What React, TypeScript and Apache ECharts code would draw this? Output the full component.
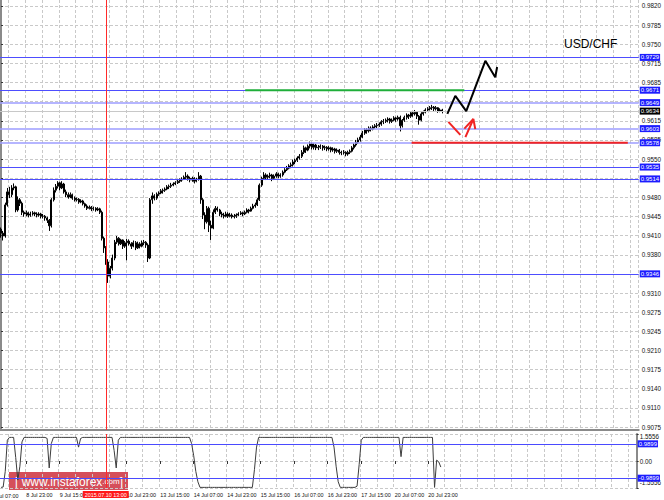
import React, { useEffect, useRef } from 'react';
import * as echarts from 'echarts';

// ---------- DATA ----------
const N_BARS = 304; // hourly slots across the whole chart width (incl. empty shift area)
const FIRST_OPEN = 0.9425;
const CLOSE = [
  0.9418, 0.9413, 0.9468, 0.9491, 0.9486, 0.9498, 0.9500, 0.9459, 0.9477, 0.9471,
  0.9455, 0.9452, 0.9454, 0.9450, 0.9452, 0.9454, 0.9452, 0.9450, 0.9452, 0.9448,
  0.9448, 0.9445, 0.9441, 0.9431, 0.9477, 0.9494, 0.9501, 0.9507, 0.9498, 0.9505,
  0.9491, 0.9486, 0.9482, 0.9486, 0.9480, 0.9477, 0.9478, 0.9473, 0.9475, 0.9470,
  0.9466, 0.9462, 0.9464, 0.9461, 0.9462, 0.9459, 0.9461, 0.9455, 0.9409, 0.9392,
  0.9367, 0.9342, 0.9356, 0.9374, 0.9402, 0.9409, 0.9399, 0.9406, 0.9395, 0.9401,
  0.9404, 0.9399, 0.9395, 0.9401, 0.9392, 0.9399, 0.9395, 0.9401, 0.9402, 0.9397,
  0.9374, 0.9477, 0.9484, 0.9480, 0.9487, 0.9489, 0.9493, 0.9494, 0.9496, 0.9500,
  0.9501, 0.9503, 0.9505, 0.9507, 0.9510, 0.9512, 0.9513, 0.9517, 0.9519, 0.9515,
  0.9512, 0.9515, 0.9510, 0.9513, 0.9519, 0.9477, 0.9450, 0.9438, 0.9462, 0.9432,
  0.9427, 0.9455, 0.9462, 0.9459, 0.9452, 0.9450, 0.9448, 0.9452, 0.9448, 0.9450,
  0.9447, 0.9448, 0.9450, 0.9452, 0.9454, 0.9452, 0.9455, 0.9459, 0.9457, 0.9462,
  0.9466, 0.9468, 0.9477, 0.9503, 0.9515, 0.9521, 0.9517, 0.9519, 0.9521, 0.9515,
  0.9519, 0.9523, 0.9519, 0.9521, 0.9526, 0.9530, 0.9533, 0.9537, 0.9539, 0.9544,
  0.9547, 0.9551, 0.9554, 0.9561, 0.9569, 0.9565, 0.9572, 0.9576, 0.9570, 0.9574,
  0.9569, 0.9570, 0.9572, 0.9569, 0.9570, 0.9567, 0.9569, 0.9565, 0.9567, 0.9563,
  0.9565, 0.9561, 0.9560, 0.9561, 0.9558, 0.9561, 0.9563, 0.9569, 0.9574, 0.9579,
  0.9583, 0.9588, 0.9595, 0.9601, 0.9599, 0.9604, 0.9602, 0.9606, 0.9608, 0.9609,
  0.9611, 0.9615, 0.9616, 0.9618, 0.9620, 0.9616, 0.9618, 0.9622, 0.9620, 0.9623,
  0.9608, 0.9618, 0.9623, 0.9627, 0.9625, 0.9631, 0.9629, 0.9632, 0.9625, 0.9618,
  0.9629, 0.9632, 0.9636, 0.9638, 0.9640, 0.9641, 0.9638, 0.9640, 0.9634, 0.9636, 0.9634,
];
const HIGH = [
  0.9428, 0.9422, 0.9472, 0.9498, 0.9500, 0.9503, 0.9506, 0.9502, 0.9483, 0.9480,
  0.9474, 0.9458, 0.9458, 0.9456, 0.9456, 0.9457, 0.9456, 0.9455, 0.9455, 0.9454,
  0.9452, 0.9450, 0.9447, 0.9443, 0.9480, 0.9499, 0.9505, 0.9510, 0.9509, 0.9510,
  0.9507, 0.9495, 0.9490, 0.9490, 0.9488, 0.9483, 0.9481, 0.9480, 0.9478, 0.9477,
  0.9472, 0.9469, 0.9467, 0.9466, 0.9465, 0.9464, 0.9464, 0.9463, 0.9458, 0.9412,
  0.9395, 0.9372, 0.9360, 0.9380, 0.9406, 0.9413, 0.9411, 0.9408, 0.9407, 0.9404,
  0.9408, 0.9407, 0.9402, 0.9405, 0.9404, 0.9403, 0.9402, 0.9405, 0.9406, 0.9404,
  0.9400, 0.9480, 0.9490, 0.9487, 0.9490, 0.9492, 0.9496, 0.9497, 0.9499, 0.9503,
  0.9504, 0.9507, 0.9508, 0.9510, 0.9513, 0.9515, 0.9517, 0.9520, 0.9526, 0.9522,
  0.9518, 0.9518, 0.9517, 0.9516, 0.9526, 0.9521, 0.9480, 0.9455, 0.9466, 0.9465,
  0.9440, 0.9460, 0.9466, 0.9465, 0.9461, 0.9456, 0.9454, 0.9456, 0.9455, 0.9454,
  0.9453, 0.9452, 0.9453, 0.9455, 0.9457, 0.9456, 0.9458, 0.9462, 0.9461, 0.9465,
  0.9470, 0.9472, 0.9480, 0.9506, 0.9518, 0.9526, 0.9524, 0.9522, 0.9525, 0.9523,
  0.9522, 0.9526, 0.9525, 0.9524, 0.9529, 0.9533, 0.9537, 0.9540, 0.9543, 0.9548,
  0.9550, 0.9554, 0.9558, 0.9565, 0.9573, 0.9571, 0.9575, 0.9580, 0.9578, 0.9577,
  0.9576, 0.9574, 0.9575, 0.9574, 0.9573, 0.9572, 0.9572, 0.9571, 0.9570, 0.9569,
  0.9568, 0.9567, 0.9564, 0.9565, 0.9563, 0.9564, 0.9566, 0.9572, 0.9577, 0.9583,
  0.9587, 0.9592, 0.9599, 0.9604, 0.9604, 0.9607, 0.9607, 0.9609, 0.9611, 0.9613,
  0.9614, 0.9618, 0.9620, 0.9621, 0.9623, 0.9622, 0.9621, 0.9625, 0.9624, 0.9626,
  0.9626, 0.9620, 0.9626, 0.9630, 0.9629, 0.9634, 0.9633, 0.9636, 0.9633, 0.9627,
  0.9632, 0.9635, 0.9639, 0.9641, 0.9643, 0.9645, 0.9643, 0.9643, 0.9641, 0.9639, 0.9638,
];
const LOW = [
  0.9410, 0.9405, 0.9410, 0.9465, 0.9480, 0.9482, 0.9494, 0.9455, 0.9456, 0.9466,
  0.9450, 0.9447, 0.9448, 0.9446, 0.9447, 0.9449, 0.9448, 0.9446, 0.9447, 0.9444,
  0.9444, 0.9440, 0.9436, 0.9422, 0.9428, 0.9474, 0.9490, 0.9497, 0.9494, 0.9496,
  0.9488, 0.9482, 0.9479, 0.9480, 0.9477, 0.9474, 0.9474, 0.9470, 0.9471, 0.9467,
  0.9463, 0.9459, 0.9460, 0.9457, 0.9458, 0.9456, 0.9457, 0.9452, 0.9405, 0.9383,
  0.9362, 0.9330, 0.9338, 0.9352, 0.9370, 0.9399, 0.9396, 0.9397, 0.9390, 0.9392,
  0.9370, 0.9396, 0.9390, 0.9393, 0.9388, 0.9390, 0.9391, 0.9393, 0.9397, 0.9392,
  0.9367, 0.9372, 0.9470, 0.9476, 0.9477, 0.9484, 0.9487, 0.9488, 0.9491, 0.9494,
  0.9496, 0.9498, 0.9501, 0.9503, 0.9505, 0.9507, 0.9509, 0.9512, 0.9514, 0.9511,
  0.9508, 0.9509, 0.9506, 0.9508, 0.9511, 0.9470, 0.9443, 0.9425, 0.9435, 0.9420,
  0.9406, 0.9425, 0.9452, 0.9456, 0.9448, 0.9446, 0.9444, 0.9446, 0.9445, 0.9446,
  0.9444, 0.9444, 0.9445, 0.9448, 0.9450, 0.9448, 0.9450, 0.9453, 0.9453, 0.9456,
  0.9460, 0.9463, 0.9466, 0.9475, 0.9500, 0.9512, 0.9512, 0.9514, 0.9515, 0.9510,
  0.9512, 0.9516, 0.9515, 0.9516, 0.9518, 0.9524, 0.9528, 0.9531, 0.9533, 0.9536,
  0.9540, 0.9544, 0.9548, 0.9551, 0.9558, 0.9560, 0.9563, 0.9568, 0.9566, 0.9566,
  0.9565, 0.9565, 0.9567, 0.9564, 0.9565, 0.9563, 0.9564, 0.9561, 0.9562, 0.9559,
  0.9560, 0.9557, 0.9556, 0.9557, 0.9554, 0.9555, 0.9558, 0.9561, 0.9566, 0.9571,
  0.9576, 0.9580, 0.9586, 0.9592, 0.9594, 0.9596, 0.9598, 0.9600, 0.9603, 0.9604,
  0.9606, 0.9608, 0.9611, 0.9613, 0.9614, 0.9612, 0.9613, 0.9616, 0.9615, 0.9617,
  0.9598, 0.9605, 0.9615, 0.9619, 0.9620, 0.9622, 0.9624, 0.9626, 0.9620, 0.9610,
  0.9616, 0.9626, 0.9630, 0.9633, 0.9635, 0.9636, 0.9634, 0.9635, 0.9631, 0.9632, 0.9630,
];
const INDICATOR = [
  -1.52, -1.50, -0.60, 1.20, 1.36, 1.36, 1.36, 0.20, -1.10, -0.30,
  1.10, 1.36, 1.36, 1.36, 1.36, 1.36, 1.36, 1.36, 1.36, 1.36,
  1.36, 1.36, 1.30, -0.40, 1.00, 1.36, 1.36, 1.36, 1.36, 1.36,
  1.36, 1.36, 1.36, 1.36, 1.36, 1.36, 1.36, 0.80, 1.30, 1.36,
  1.36, 1.36, 1.36, 1.36, 1.36, 1.36, 1.36, 1.36, 1.36, 1.36,
  1.36, 1.36, 1.36, 1.36, 0.60, -0.40, 1.20, 1.36, 1.36, 1.36,
  1.36, 1.36, 1.36, 1.36, 1.36, 1.36, 1.36, 1.36, 1.36, 1.36,
  1.36, 1.36, 1.36, 1.36, 1.36, 1.36, 1.36, 1.36, 1.36, 1.36,
  1.36, 1.36, 1.36, 1.36, 1.36, 1.36, 1.36, 1.36, 1.36, 1.36,
  1.36, 1.00, 0.30, -0.60, -1.20, -1.52, -1.52, -1.52, -1.52, -1.52,
  -1.52, -1.52, -1.52, -1.52, -1.52, -1.52, -1.52, -1.52, -1.52, -1.52,
  -1.52, -1.52, -1.52, -1.52, -1.52, -1.52, -1.52, -1.52, -1.52, -1.52,
  -1.52, -0.50, 0.80, 1.36, 1.36, 1.36, 1.36, 1.36, 1.36, 1.36,
  1.36, 1.36, 1.36, 1.36, 1.36, 1.36, 1.36, 1.36, 1.36, 1.36,
  1.36, 1.36, 1.36, 1.36, 1.36, 1.36, 1.36, 1.36, 1.36, 1.36,
  1.36, 1.36, 1.36, 1.36, 1.36, 1.36, 1.36, 1.36, 1.36, 0.80,
  -0.30, -1.20, -1.52, -1.52, -1.52, -1.52, -1.52, -1.52, -1.52, -1.52,
  -1.45, -0.20, 1.20, 1.36, 1.36, 1.36, 1.36, 1.36, 1.36, 1.36,
  1.36, 1.36, 1.36, 1.36, 1.36, 1.36, 1.36, 1.36, 1.36, 1.36,
  1.36, 0.25, 1.36, 1.36, 1.36, 1.36, 1.36, 1.36, 1.36, 1.36,
  1.36, 1.36, 1.36, 1.36, 1.36, 1.36, 1.36, -1.52, 0.05, -0.05, -0.35,
];

// price scale tick labels (bottom to top), evenly spaced in the pane
const PRICE_TICK_LABELS = [
  '0.9075', '0.9110', '0.9140', '0.9175', '0.9210', '0.9245', '0.9275', '0.9310',
  '0.9345', '0.9380', '0.9410', '0.9445', '0.9480', '0.9515', '0.9550', '0.9585',
  '0.9615', '0.9650', '0.9685', '0.9715', '0.9750', '0.9785', '0.9820',
];
// tick labels that sit under a highlighted level box in the reference
const COVERED_TICK_LABELS = ['0.9345', '0.9515', '0.9650'];
const PRICE_TICK_FIRST = 0.9075;
const PRICE_TICK_LAST = 0.982;
const PRICE_MIN = 0.90697;
const PRICE_MAX = 0.98306;

const LEVEL_VALUES = [0.9729, 0.9671, 0.9649, 0.9603, 0.9578, 0.9535, 0.9514, 0.9346];
const LEVEL_LABELS = ['0.9729', '0.9671', '0.9649', '0.9603', '0.9578', '0.9535', '0.9514', '0.9346'];
const CURRENT_PRICE = 0.9634;
const CURRENT_LABEL = '0.9634';

const IND_MIN = -1.5556;
const IND_MAX = 1.5556;
const IND_TICKS = [-1.5556, 0, 1.5556];
const IND_TICK_LABELS = ['-1.5556', '0.00', '1.5556'];
const IND_LEVELS = [0.9899, -0.9899];
const IND_LEVEL_LABELS = ['0.9899', '-0.9899'];

const X_LABEL_BARS = [12, 28, 60, 76, 92, 108, 124, 140, 156, 172, 188, 204];
const X_LABELS = [
  '8 Jul 23:00', '9 Jul 15:00', '10 Jul 23:00', '13 Jul 15:00', '14 Jul 07:00', '14 Jul 23:00',
  '15 Jul 15:00', '16 Jul 07:00', '16 Jul 23:00', '17 Jul 15:00', '20 Jul 07:00', '20 Jul 23:00',
];
const EVENT_BAR = 50;
const EVENT_LABEL = '2015.07.10 13:00';

// drawn objects, in [bar position, price]
const GREEN_SEG = [[116.2, 0.9671], [220.5, 0.9671]];
const RED_SEG = [[195.4, 0.9578], [298.3, 0.9578]];
const BLACK_PATH = [[212.4, 0.9629], [216.2, 0.9661], [221.4, 0.9634], [230.5, 0.9723], [235.2, 0.9694], [236.1, 0.9712]];
const RED_PATH_1 = [[212.9, 0.9615], [218.6, 0.9592]];
const RED_PATH_2 = [[221.0, 0.9588], [224.8, 0.9620], [225.7, 0.9602]];
const RED_PATH_3 = [[220.5, 0.9603], [224.8, 0.9620]];

// ---------- styling ----------
const FONT = 'Liberation Sans';
const LIGHT_LEVELS = [2, 3, 4];
const GRID_LINE = { color: '#c9c9c9', type: [3, 2] as any, width: 1 };
const AXIS_GRAY = { color: '#8a8a8a', width: 2 };

export default function App() {
  const ref = useRef<HTMLDivElement>(null);

  useEffect(() => {
    document.body.style.margin = '0';
    if (!ref.current) return;
    const chart = echarts.init(ref.current, undefined, { renderer: 'svg' });

    const cats = Array.from({ length: N_BARS }, (_, i) => String(i));
    const candles = CLOSE.map((c, i) => [i === 0 ? FIRST_OPEN : CLOSE[i - 1], c, LOW[i], HIGH[i]]);
    const tickStep = (PRICE_TICK_LAST - PRICE_TICK_FIRST) / (PRICE_TICK_LABELS.length - 1);
    const tickValues = PRICE_TICK_LABELS.map((_, k) => PRICE_TICK_FIRST + k * tickStep);
    const isLabelBar = (i: number) => X_LABEL_BARS.indexOf(i) >= 0;
    const isGridBar = (i: number) => i % 8 === 4;

    const boxLabel = (text: string, bg: string) => ({
      show: true,
      position: 'end',
      formatter: text,
      backgroundColor: bg,
      color: '#fff',
      fontSize: 6,
      fontFamily: FONT,
      padding: [1, 1, 0, 1],
      distance: 1,
    });

    const priceMarks: any[] = LEVEL_VALUES.map((v, k) => {
      const light = LIGHT_LEVELS.indexOf(k) >= 0;
      return {
        yAxis: v,
        lineStyle: { color: light ? '#9d9dff' : '#4d4dff', width: light ? 1.5 : 1, type: 'solid' },
        label: boxLabel(LEVEL_LABELS[k], '#1c1cff'),
      };
    });
    priceMarks.push({
      yAxis: CURRENT_PRICE,
      lineStyle: { color: '#c8c8c8', width: 1, type: 'solid' },
      label: boxLabel(CURRENT_LABEL, '#000'),
    });
    priceMarks.push({
      xAxis: String(EVENT_BAR),
      lineStyle: { color: '#ff2a2a', width: 1, type: 'solid' },
      label: { show: false },
    });

    const indMarks: any[] = IND_LEVELS.map((v, k) => ({
      yAxis: v,
      lineStyle: { color: '#4a4aff', width: 1, type: 'solid' },
      label: boxLabel(IND_LEVEL_LABELS[k], '#1c1cff'),
    }));
    indMarks.push({
      xAxis: String(EVENT_BAR),
      lineStyle: { color: '#ff2a2a', width: 1, type: 'solid' },
      label: {
        show: true,
        position: 'start',
        formatter: EVENT_LABEL,
        backgroundColor: '#ff1a1a',
        color: '#fff',
        fontSize: 5.4,
        fontFamily: FONT,
        padding: [1, 2, 1, 2],
        distance: 3,
      },
    });

    const drawLine = (data: number[][], color: string, width: number, z = 5) => ({
      type: 'line',
      xAxisIndex: 2,
      yAxisIndex: 0,
      data,
      symbol: 'none',
      silent: true,
      z,
      lineStyle: { color, width },
    });

    const option: any = {
      animation: false,
      backgroundColor: '#fff',
      textStyle: { fontFamily: FONT },
      grid: [
        { left: 0, right: 23, top: 0, height: 430 },
        { left: 0, right: 23, top: 434, height: 54 },
      ],
      xAxis: [
        {
          type: 'category', gridIndex: 0, data: cats, boundaryGap: true,
          axisLine: { show: true, lineStyle: AXIS_GRAY },
          axisTick: { show: false }, axisLabel: { show: false },
          splitLine: { show: true, interval: (i: number) => isGridBar(i), lineStyle: GRID_LINE },
        },
        {
          type: 'category', gridIndex: 1, data: cats, boundaryGap: true,
          axisLine: { show: false },
          axisTick: { show: true, alignWithLabel: true, interval: (i: number) => isLabelBar(i), length: 3, lineStyle: { color: '#333' } },
          axisLabel: {
            show: true,
            interval: (i: number) => isLabelBar(i),
            formatter: (v: string) => X_LABELS[X_LABEL_BARS.indexOf(Number(v))] || '',
            align: 'left', fontSize: 5.4, color: '#111', margin: 4, fontFamily: FONT,
          },
          splitLine: { show: true, interval: (i: number) => isGridBar(i), lineStyle: GRID_LINE },
        },
        { type: 'value', gridIndex: 0, min: -0.5, max: N_BARS - 0.5, show: false },
      ],
      yAxis: [
        {
          type: 'value', gridIndex: 0, position: 'right', min: PRICE_MIN, max: PRICE_MAX, scale: true,
          axisLine: { show: true, lineStyle: AXIS_GRAY },
          axisTick: { show: true, customValues: tickValues, length: 2, lineStyle: { color: '#333' } },
          axisLabel: {
            customValues: tickValues,
            formatter: (v: number) => {
              const s = PRICE_TICK_LABELS[Math.round((v - PRICE_TICK_FIRST) / tickStep)] || '';
              return COVERED_TICK_LABELS.indexOf(s) >= 0 ? '' : s;
            },
            fontSize: 6.3, color: '#111', margin: 3, fontFamily: FONT,
          },
          splitLine: { show: true, lineStyle: GRID_LINE },
        },
        {
          type: 'value', gridIndex: 1, position: 'right', min: IND_MIN, max: IND_MAX,
          axisLine: { show: true, lineStyle: AXIS_GRAY },
          axisTick: { show: true, customValues: IND_TICKS, length: 2, lineStyle: { color: '#333' } },
          axisLabel: {
            customValues: IND_TICKS,
            formatter: (v: number) => {
              const k = IND_TICKS.indexOf(v);
              if (k === 0) return '{lo|' + IND_TICK_LABELS[k] + '}';
              if (k === IND_TICKS.length - 1) return '{hi|' + IND_TICK_LABELS[k] + '}';
              return IND_TICK_LABELS[k] ?? '';
            },
            rich: {
              lo: { fontSize: 6.3, fontFamily: FONT, color: '#111', padding: [0, 0, 11, 0] },
              hi: { fontSize: 6.3, fontFamily: FONT, color: '#111', padding: [4, 0, 0, 0] },
            },
            fontSize: 6.3, color: '#111', margin: 3, fontFamily: FONT,
          },
          splitLine: { show: true, lineStyle: GRID_LINE },
        },
      ],
      series: [
        {
          type: 'candlestick', name: 'USDCHF', xAxisIndex: 0, yAxisIndex: 0,
          data: candles, barWidth: 1.5, z: 3,
          itemStyle: { color: '#ffffff', color0: '#000000', borderColor: '#000000', borderColor0: '#000000', borderWidth: 1 },
          markLine: { symbol: 'none', silent: true, animation: false, precision: 4, data: priceMarks },
        },
        {
          type: 'line', name: 'indicator', xAxisIndex: 1, yAxisIndex: 1, data: INDICATOR,
          symbol: 'none', silent: true, lineStyle: { color: '#3c3c3c', width: 1 },
          markLine: { symbol: 'none', silent: true, animation: false, data: indMarks },
        },
        drawLine(GREEN_SEG, '#1fae3a', 2),
        drawLine(RED_SEG, '#f02424', 2),
        drawLine(BLACK_PATH, '#000000', 2, 6),
        drawLine(RED_PATH_1, '#f02424', 2, 6),
        drawLine(RED_PATH_2, '#f02424', 2, 6),
        drawLine(RED_PATH_3, '#f02424', 2, 6),
      ],
      graphic: [
        {
          type: 'text', x: 564, y: 38, z: 10,
          style: { text: 'USD/CHF', fontSize: 12, fontFamily: FONT, fill: '#000' },
        },
        {
          type: 'text', x: -8, y: 493, z: 10,
          style: { text: '8 Jul 07:00', fontSize: 5.4, fontFamily: FONT, fill: '#111' },
        },
        {
          type: 'group', x: 9, y: 472, z: 20,
          children: [
            { type: 'rect', shape: { x: 0, y: 0, width: 119, height: 18 }, style: { fill: 'rgba(200,24,38,0.76)' } },
            {
              type: 'text', x: 6, y: 9.5,
              style: {
                text: '{b|[} {w|www.instaforex}{c|.com}{b|]}',
                verticalAlign: 'middle',
                fill: '#fff',
                rich: {
                  b: { fontSize: 12, fontFamily: FONT, fill: '#fff' },
                  w: { fontSize: 12, fontFamily: FONT, fill: '#fff' },
                  c: { fontSize: 8, fontFamily: FONT, fill: '#fff' },
                },
              },
            },
          ],
        },
      ],
    };

    chart.setOption(option);
    return () => chart.dispose();
  }, []);

  return <div ref={ref} style={{ width: 664, height: 500 }} />;
}
